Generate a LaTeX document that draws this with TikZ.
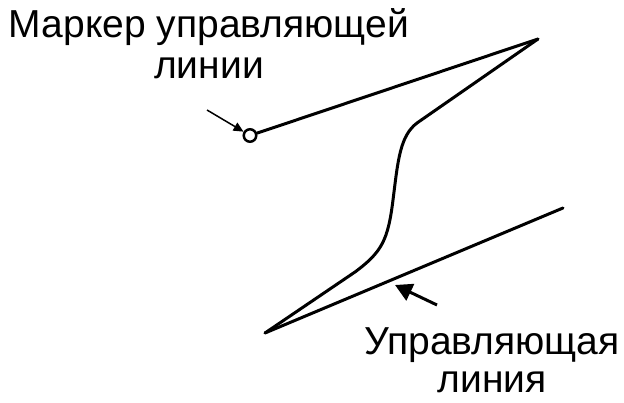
\documentclass[tikz,border=0pt]{standalone}
\usepackage{fontspec}
\setmainfont{Liberation Sans}
\usetikzlibrary{arrows.meta,positioning}
\tikzset{
    label text/.style={font=\fontsize{39}{41}\selectfont, align=center, inner sep=0pt},
    main line/.style={line width=3pt, line cap=round, line join=round},
}

\begin{document}
\begin{tikzpicture}[x=1pt, y=-1pt, >=Triangle]
    \useasboundingbox (0,0) rectangle (624,403);

    % Key points
    \coordinate (top) at (538,39);
    \coordinate (low) at (265,333);
    \coordinate (right) at (563,208);

    % Marker of the control line
    \node[circle, draw, line width=2.5pt, minimum size=12.5pt, inner sep=0pt] (marker) at (250,135.5) {};
    \draw[main line] (marker) -- (top);

    % Curve
    \draw[main line] (top) -- (417,123)
        .. controls (400,136) and (398,160) .. (393,200)
        .. controls (388,240) and (382,252) .. (355,272) -- (low);

    % Control line
    \draw[main line] (low) -- (right);

    % Labels
    \node[label text, anchor=north] (mlabel) at (209,8) {Маркер управляющей\\линии};
    \node[label text, anchor=north, font=\fontsize{39}{38}\selectfont] (clabel) at (492,327) {Управляющая\\линия};

    % Pointers
    \coordinate (mtail) at (207,110);
    \draw[line width=1.5pt, -{Triangle[length=10pt,width=9pt]}] (mtail) -- (marker);
    \coordinate (ctail) at (437,305);
    \coordinate (ctip) at (395,285);
    \draw[line width=3pt, -{Triangle[length=17pt,width=18pt]}] (ctail) -- (ctip);
\end{tikzpicture}
\end{document}
